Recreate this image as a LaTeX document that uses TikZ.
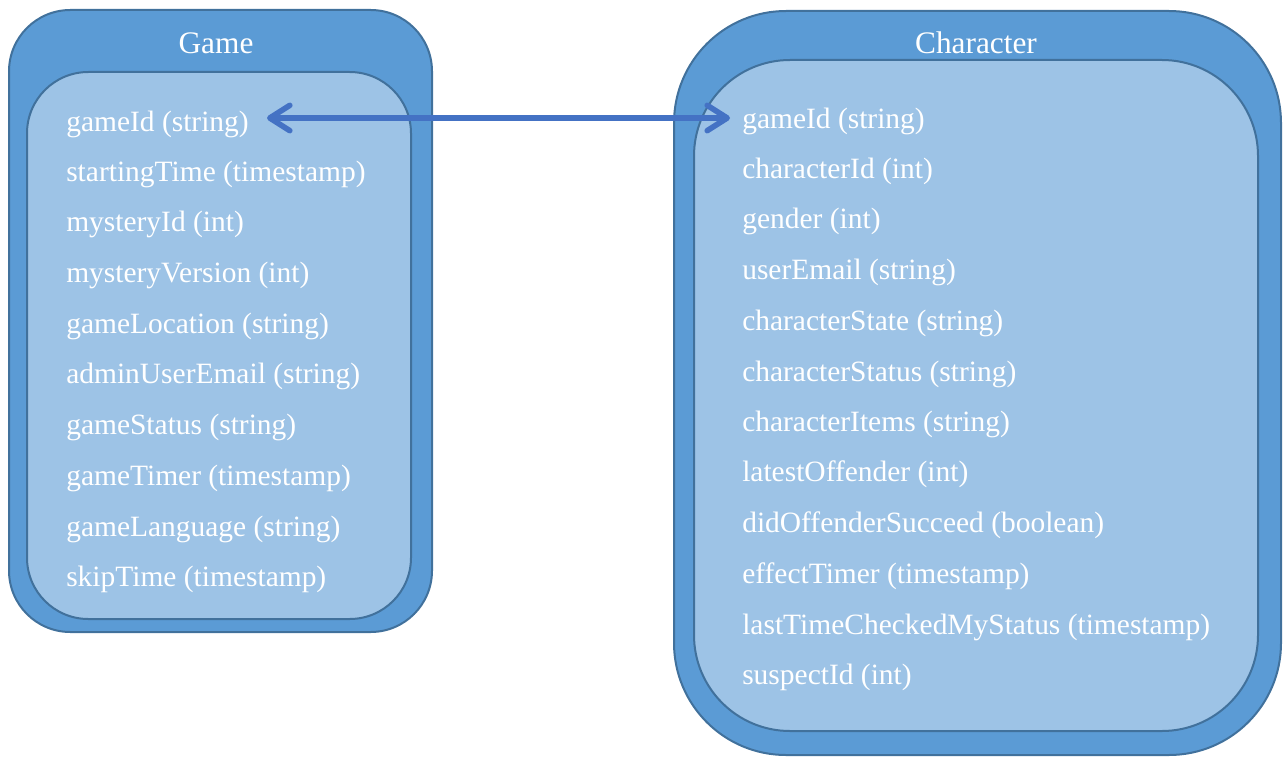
\documentclass[tikz,border=0pt]{standalone}
\usepackage{fontspec}
\setmainfont{Liberation Serif}
\usetikzlibrary{arrows.meta}
\definecolor{outerfill}{HTML}{5B9BD5}
\definecolor{innerfill}{HTML}{9DC3E6}
\definecolor{edgeline}{HTML}{41719C}
\definecolor{linkblue}{HTML}{4472C4}
\begin{document}
\begin{tikzpicture}[x=0.75pt,y=-0.75pt,
  outerbox/.style={draw=edgeline, fill=outerfill, line width=1.5pt, rectangle, inner sep=0pt},
  innerbox/.style={draw=edgeline, fill=innerfill, line width=1.5pt, rectangle, inner sep=0pt},
  title/.style={text=white, font=\fontsize{23.5}{28}\selectfont, inner sep=0pt},
  field/.style={text=white, font=\fontsize{22.1}{26}\selectfont, inner sep=0pt, anchor=west},
  barb/.tip={Straight Barb[length=15pt, width=19pt, line width=4.2pt, round]},
  link/.style={draw=linkblue, line width=4.2pt, line cap=round, {barb}-{barb}}
]
\useasboundingbox (0,0) rectangle (1287,756);

% Game table
\node (gameOuter) [outerbox, rounded corners=46pt, minimum width=423*0.75pt, minimum height=622*0.75pt] at (220.5,321) {};
\node (gameInner) [innerbox, rounded corners=46pt, minimum width=384*0.75pt, minimum height=547*0.75pt] at (219,345.5) {};
\node (gameTitle) [title] at (216,43) {Game};
\node (g1)  [field] at (66,124) {gameId (string)};
\node (g2)  [field] at (66,174) {startingTime (timestamp)};
\node (g3)  [field] at (66,224) {mysteryId (int)};
\node (g4)  [field] at (66,275) {mysteryVersion (int)};
\node (g5)  [field] at (66,326) {gameLocation (string)};
\node (g6)  [field] at (66,376) {adminUserEmail (string)};
\node (g7)  [field] at (66,427) {gameStatus (string)};
\node (g8)  [field] at (66,478) {gameTimer (timestamp)};
\node (g9)  [field] at (66,529) {gameLanguage (string)};
\node (g10) [field] at (66,579) {skipTime (timestamp)};

% Character table
\node (charOuter) [outerbox, rounded corners=84pt, minimum width=607*0.75pt, minimum height=744*0.75pt] at (977.5,383) {};
\node (charInner) [innerbox, rounded corners=72pt, minimum width=564*0.75pt, minimum height=671*0.75pt] at (976,395.5) {};
\node (charTitle) [title] at (976,43) {Character};
\node (c1)  [field] at (742,121) {gameId (string)};
\node (c2)  [field] at (742,171) {characterId (int)};
\node (c3)  [field] at (742,221) {gender (int)};
\node (c4)  [field] at (742,272) {userEmail (string)};
\node (c5)  [field] at (742,323) {characterState (string)};
\node (c6)  [field] at (742,374) {characterStatus (string)};
\node (c7)  [field] at (742,424) {characterItems (string)};
\node (c8)  [field] at (742,474) {latestOffender (int)};
\node (c9)  [field] at (742,525) {didOffenderSucceed (boolean)};
\node (c10) [field] at (742,576) {effectTimer (timestamp)};
\node (c11) [field] at (742,627) {lastTimeCheckedMyStatus (timestamp)};
\node (c12) [field] at (742,677) {suspectId (int)};

% gameId link between the two tables
\coordinate (linkA) at ([xshift=18*0.75pt]g1.east);
\coordinate (linkB) at ([xshift=-12*0.75pt]c1.west);
\draw[link] (linkA |- 0,118) -- (linkB |- 0,118);
\end{tikzpicture}
\end{document}
